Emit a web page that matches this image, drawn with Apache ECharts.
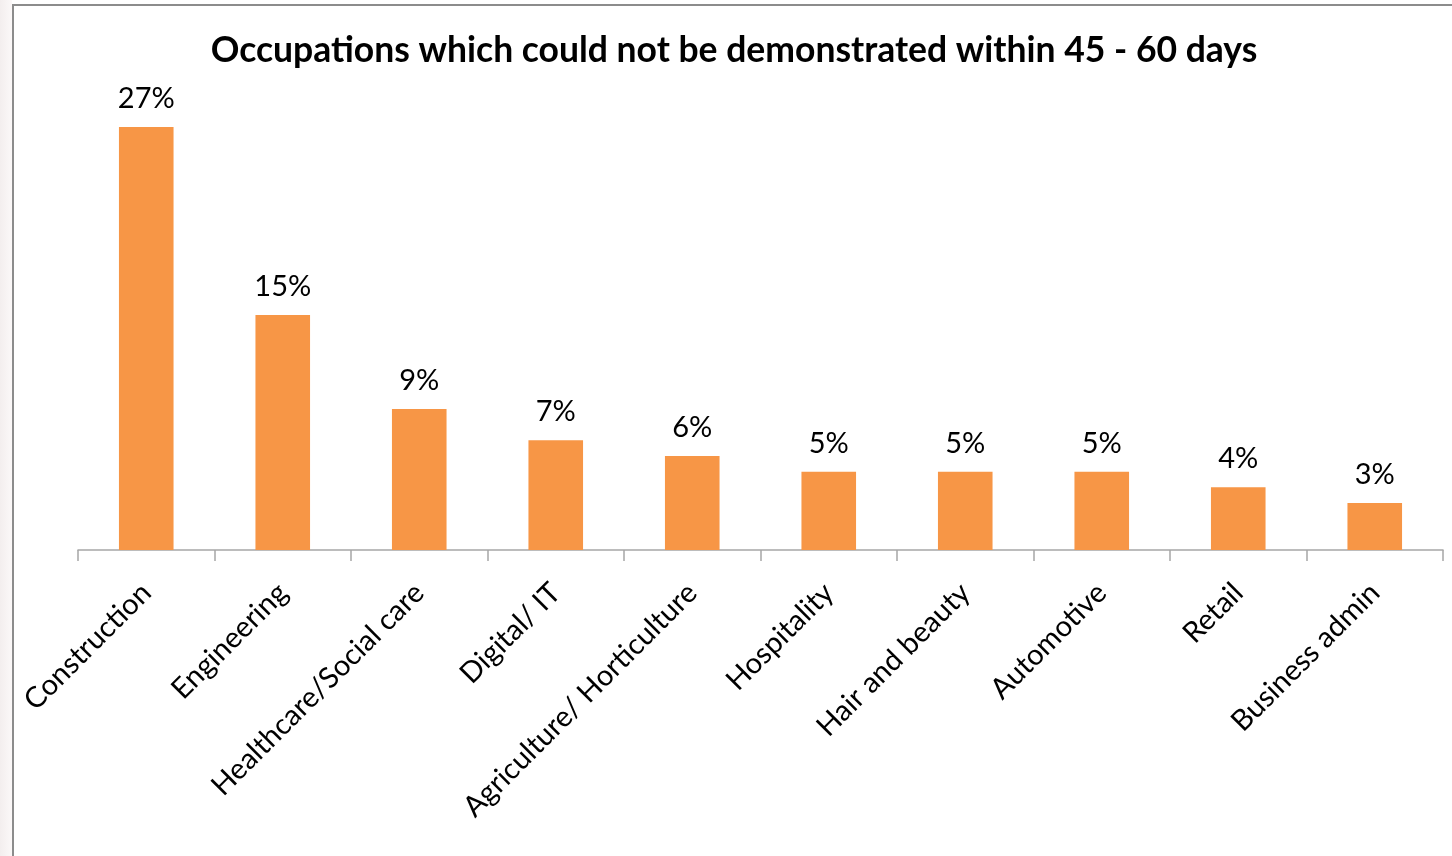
<!DOCTYPE html>
<html>
<head>
<meta charset="utf-8">
<script src="https://cdn.jsdelivr.net/npm/echarts@6/dist/echarts.min.js"></script>
<style>
  html, body { margin: 0; padding: 0; width: 1452px; height: 856px; overflow: hidden; background: #fff; }
  body { background: linear-gradient(to right, #f3eeee 0px, #fbf8f8 12px, #fff 12px); position: relative; }
  #frame { position: absolute; left: 12px; top: 4px; width: 1440px; height: 852px;
           border-left: 2px solid #8c8c8c; border-top: 2px solid #8c8c8c; background: #fff; }
  #chart { width: 1440px; height: 852px; }
</style>
</head>
<body>
<div id="frame"><div id="chart"></div></div>
<script>
  const titleText = 'Occupations which could not be demonstrated within 45 - 60 days';
  const categories = ['Construction', 'Engineering', 'Healthcare/Social care', 'Digital/ IT',
    'Agriculture/ Horticulture', 'Hospitality', 'Hair and beauty', 'Automotive', 'Retail', 'Business admin'];
  const shares = [27, 15, 9, 7, 6, 5, 5, 5, 4, 3];

  const chart = echarts.init(document.getElementById('chart'), null, { renderer: 'canvas' });
  chart.setOption({
    animation: false,
    textStyle: { fontFamily: 'Lato, "Open Sans", sans-serif' },
    title: {
      text: titleText,
      left: 'center',
      top: 22,
      textStyle: { fontSize: 35.5, fontWeight: 'bold', color: '#000', fontFamily: 'Lato, "Open Sans", sans-serif' }
    },
    grid: { left: 64, right: 11, top: 74, bottom: 308, containLabel: false },
    xAxis: {
      type: 'category',
      data: categories,
      axisLine: { lineStyle: { color: '#a6a6a6', width: 1.5 } },
      axisTick: { show: true, length: 11, alignWithLabel: false, lineStyle: { color: '#a6a6a6', width: 1.5 } },
      axisLabel: { rotate: 45, interval: 0, fontSize: 29, color: '#000', margin: 38 }
    },
    yAxis: {
      type: 'value',
      min: 0,
      max: 30,
      show: false,
      splitLine: { show: false }
    },
    series: [{
      type: 'bar',
      data: shares,
      barWidth: '40%',
      itemStyle: { color: '#F79646' },
      label: {
        show: true,
        position: 'top',
        distance: 14,
        fontSize: 29,
        color: '#000',
        formatter: p => p.value + '%'
      }
    }]
  });
</script>
</body>
</html>
